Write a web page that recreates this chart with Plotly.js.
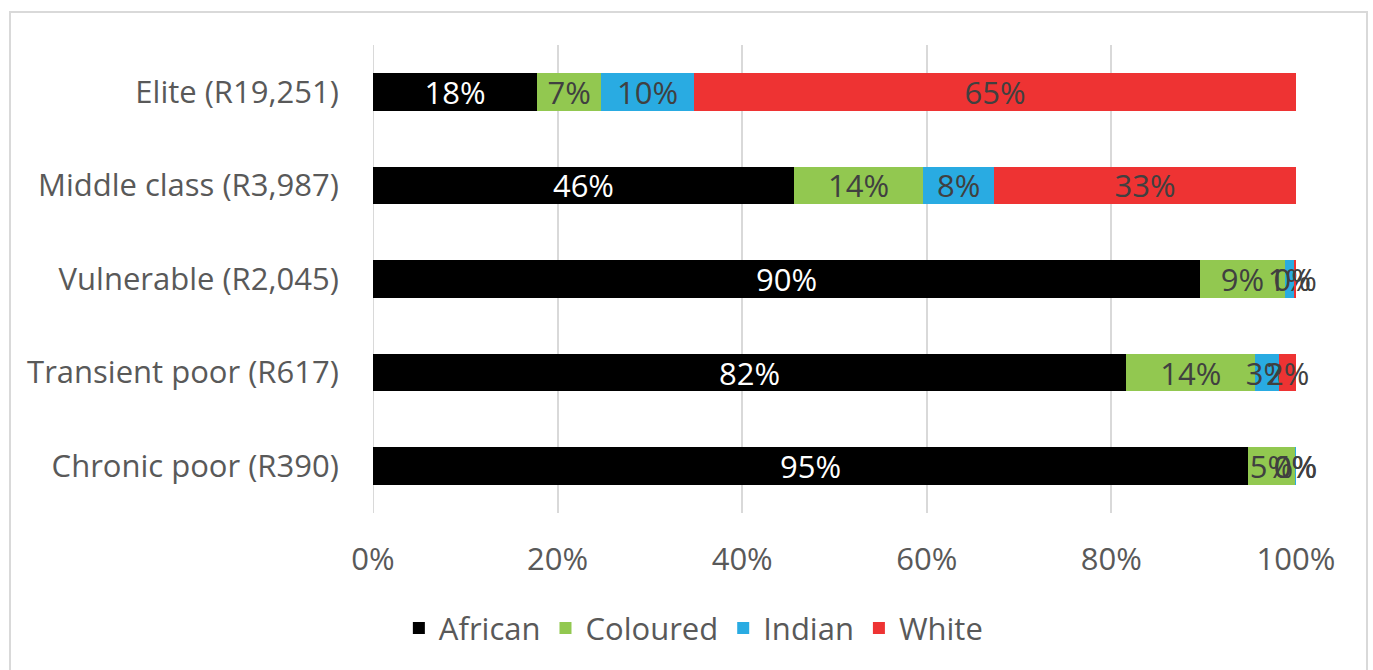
<!DOCTYPE html>
<html>
<head>
<meta charset="utf-8">
<script src="https://cdn.plot.ly/plotly-3.0.1.min.js"></script>
<style>
  html, body { margin: 0; padding: 0; background: #ffffff; }
  #chart { width: 1373px; height: 670px; position: absolute; left: 0; top: 0; }
  #frame { position: absolute; left: 9px; top: 11px; width: 1359px; height: 670px;
           border: 2px solid #d9d9d9; pointer-events: none; box-sizing: border-box; }
</style>
</head>
<body>
<div id="chart"></div>
<div id="frame"></div>
<script>
const categories = ["Elite (R19,251)", "Middle class (R3,987)", "Vulnerable (R2,045)", "Transient poor (R617)", "Chronic poor (R390)"];
const african  = [17.8, 45.6, 89.6, 81.6, 94.8];
const coloured = [6.9, 14.0, 9.2, 14.0, 5.1];
const indian   = [10.1, 7.7, 1.0, 2.6, 0.05];
const white    = [65.2, 32.7, 0.2, 1.8, 0.05];
const xTickVals = [0, 20, 40, 60, 80, 100];
const xTickText = ["0%", "20%", "40%", "60%", "80%", "100%"];

const FONT = "Open Sans, sans-serif";
const FS = 31;

function mk(name, vals, color, textColor) {
  return {
    type: "bar", orientation: "h", name: name,
    y: categories, x: vals,
    marker: { color: color, line: { width: 0 } },
    texttemplate: "%{x:.0f}%",
    textposition: "inside",
    insidetextanchor: "middle",
    textangle: 0,
    constraintext: "none",
    textfont: { family: FONT, size: FS, color: textColor },
    cliponaxis: false,
    hoverinfo: "none"
  };
}

const data = [
  mk("African", african, "#000000", "#ffffff"),
  mk("Coloured", coloured, "#92C850", "#404040"),
  mk("Indian", indian, "#29ABE2", "#404040"),
  mk("White", white, "#EE3333", "#404040")
];

const layout = {
  width: 1373, height: 670,
  margin: { l: 373, r: 77, t: 45, b: 157, pad: 0 },
  paper_bgcolor: "#ffffff", plot_bgcolor: "#ffffff",
  barmode: "stack",
  bargap: 0.6,
  showlegend: true,
  uniformtext: { mode: "show", minsize: FS },
  font: { family: FONT, size: FS, color: "#595959" },
  xaxis: {
    range: [0, 100], tickvals: xTickVals, ticktext: xTickText,
    showgrid: true, gridcolor: "#d9d9d9", gridwidth: 2,
    zeroline: false, showline: false,
    ticks: "outside", ticklen: 19, tickcolor: "rgba(0,0,0,0)",
    tickfont: { family: FONT, size: FS, color: "#595959" },
    fixedrange: true
  },
  yaxis: {
    autorange: "reversed", type: "category",
    showgrid: false, zeroline: false, showline: false,
    ticks: "outside", ticklen: 27, tickcolor: "rgba(0,0,0,0)",
    tickfont: { family: FONT, size: FS, color: "#595959" },
    fixedrange: true
  },
  legend: {
    orientation: "h", xref: "container", yref: "container",
    x: 0.505, xanchor: "center", y: 0.062, yanchor: "middle",
    font: { family: FONT, size: FS, color: "#595959" },
    traceorder: "normal"
  },
  shapes: [
    { type: "line", xref: "x", yref: "paper", x0: 0, x1: 0, y0: 0, y1: 1,
      line: { color: "#d9d9d9", width: 2 }, layer: "below" }
  ]
};

Plotly.newPlot("chart", data, layout, { staticPlot: true, displayModeBar: false });
</script>
</body>
</html>
